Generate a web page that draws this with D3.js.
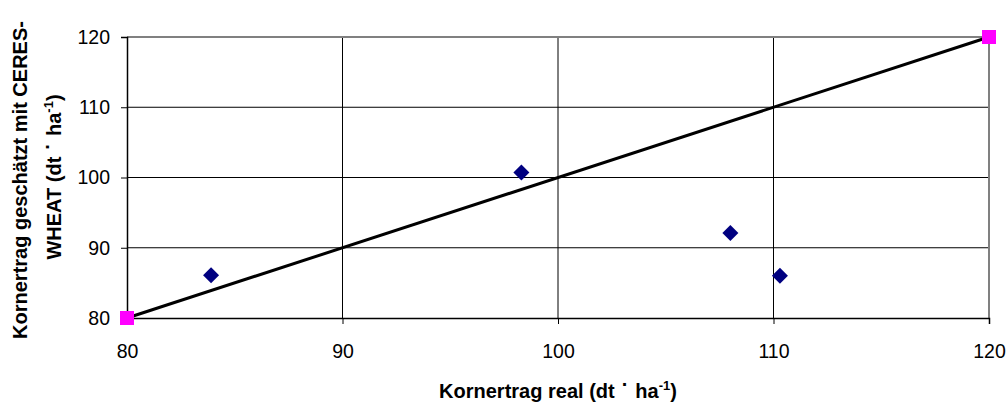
<!DOCTYPE html>
<html>
<head>
<meta charset="utf-8">
<script src="https://cdn.jsdelivr.net/npm/d3@7"></script>
<style>
  body { margin: 0; background: #fff; }
  text { font-family: "Liberation Sans", Arial, sans-serif; }
</style>
</head>
<body>
<svg id="chart" width="1007" height="405"></svg>
<script>
// data
var realYield = [83.9, 98.3, 108.0, 110.3]
var simYield = [86.1, 100.7, 92.1, 86.0]
var lineX = [80, 120]
var lineY = [80, 120]
var tickValues = [80, 90, 100, 110, 120]

var svg = d3.select('#chart')

var margin = { top: 37, left: 127, right: 18, bottom: 87 }
var width = 1007 - margin.left - margin.right
var height = 405 - margin.top - margin.bottom

var x = d3.scaleLinear().domain([80, 120]).range([0, width])
var y = d3.scaleLinear().domain([80, 120]).range([height, 0])

var g = svg.append('g')
    .attr('transform', 'translate(' + margin.left + ',' + margin.top + ')')

// gridlines
g.selectAll('.vgrid')
    .data(tickValues.slice(1, -1))
    .enter().append('line')
    .attr('x1', d => x(d)).attr('x2', d => x(d))
    .attr('y1', 0).attr('y2', height)
    .attr('stroke', '#000').attr('stroke-width', 1)

g.selectAll('.hgrid')
    .data(tickValues.slice(1, -1))
    .enter().append('line')
    .attr('x1', 0).attr('x2', width)
    .attr('y1', d => y(d)).attr('y2', d => y(d))
    .attr('stroke', '#000').attr('stroke-width', 1)

// top / right border (grey)
g.append('line').attr('x1', 0).attr('x2', width).attr('y1', 0).attr('y2', 0)
    .attr('stroke', '#808080').attr('stroke-width', 2)
g.append('line').attr('x1', width).attr('x2', width).attr('y1', 0).attr('y2', height)
    .attr('stroke', '#808080').attr('stroke-width', 2)

// axes
var xAxis = d3.axisBottom(x).tickValues(tickValues).tickSize(6).tickPadding(20)
var yAxis = d3.axisLeft(y).tickValues(tickValues).tickSize(6).tickPadding(11)

var gx = g.append('g').attr('transform', 'translate(0,' + height + ')').call(xAxis)
var gy = g.append('g').call(yAxis)

;[gx, gy].forEach(function (a) {
    a.select('.domain').attr('stroke', '#000').attr('stroke-width', 1.5)
    a.selectAll('.tick line').attr('stroke', '#000')
    a.selectAll('.tick text')
        .style('font-size', '19.5px')
        .style('font-family', '"Liberation Sans", Arial, sans-serif')
        .attr('fill', '#000')
})

// 1:1 line
var line = d3.line().x(d => x(d[0])).y(d => y(d[1]))
g.append('path')
    .datum(lineX.map((v, i) => [v, lineY[i]]))
    .attr('d', line)
    .attr('fill', 'none')
    .attr('stroke', '#000')
    .attr('stroke-width', 3)

g.selectAll('.sq')
    .data(lineX.map((v, i) => [v, lineY[i]]))
    .enter().append('rect')
    .attr('x', d => x(d[0]) - 7)
    .attr('y', d => y(d[1]) - 7)
    .attr('width', 14).attr('height', 14)
    .attr('fill', '#ff00ff')

// data points (diamonds)
var diamond = d3.symbol().type(d3.symbolSquare).size(128)
g.selectAll('.pt')
    .data(realYield.map((v, i) => [v, simYield[i]]))
    .enter().append('path')
    .attr('d', diamond)
    .attr('transform', d => 'translate(' + x(d[0]) + ',' + y(d[1]) + ') rotate(45)')
    .attr('fill', '#000080')

// unit label helper: "(dt · ha-1)"
function unit(t, pre) {
    t.append('tspan').text(pre + '(dt')
    t.append('tspan').attr('dx', 7).attr('dy', -7).text('·')
    t.append('tspan').attr('dx', 7).attr('dy', 7).text('ha')
    t.append('tspan').attr('dy', -8).style('font-size', '13px').text('-1')
    t.append('tspan').attr('dy', 8).text(')')
}

// x axis title
var xt = svg.append('text')
    .attr('x', 558).attr('y', 398)
    .attr('text-anchor', 'middle')
    .style('font-size', '20px').style('font-weight', 'bold')
unit(xt, 'Kornertrag real ')

// y axis title
svg.append('text')
    .attr('transform', 'translate(27,180) rotate(-90)')
    .attr('text-anchor', 'middle')
    .style('font-size', '20px').style('font-weight', 'bold')
    .text('Kornertrag geschätzt mit CERES-')

var yt2 = svg.append('text')
    .attr('transform', 'translate(61,177) rotate(-90)')
    .attr('text-anchor', 'middle')
    .style('font-size', '20px').style('font-weight', 'bold')
unit(yt2, 'WHEAT ')
</script>
</body>
</html>
